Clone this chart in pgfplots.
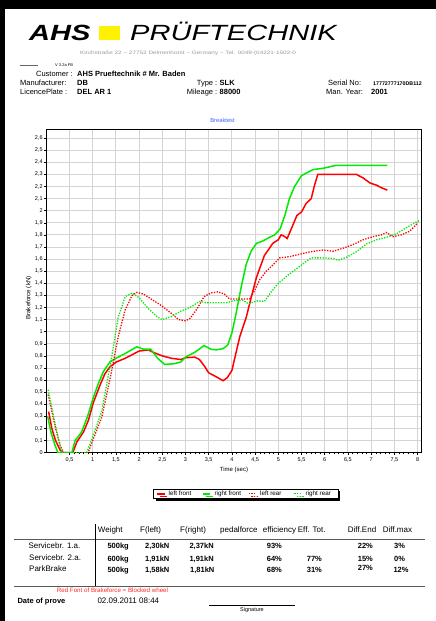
\documentclass[border=0pt]{standalone}
\usepackage{fontspec}
\setmainfont{Liberation Sans}
\usepackage{pgfplots}
\pgfplotsset{compat=1.18}
\usetikzlibrary{shadows}
\definecolor{cRed}{RGB}{255,0,0}
\definecolor{cGreen}{RGB}{0,235,0}
\definecolor{gridgray}{RGB}{212,212,212}
\definecolor{titleblue}{RGB}{60,100,255}
\definecolor{linegray}{RGB}{90,90,90}
\newcommand{\fs}[1]{\fontsize{#1}{#1}\selectfont}

\begin{document}
\begin{tikzpicture}
\useasboundingbox (0,0) rectangle (436pt,-621pt);
\fill[white] (0,0) rectangle (436pt,-621pt);
\fill[black] (0,0) rectangle (436pt,-9.3pt);
\fill[black] (0,0) rectangle (4.5pt,-621pt);

% logo
\node[anchor=base west, inner sep=0] at (29pt,-40pt) {\scalebox{1.32}[1]{\fs{22}\bfseries\itshape AHS}};
\fill[yellow] (99pt,-26pt) rectangle (120pt,-40pt);
\node[anchor=base west, inner sep=0] at (130pt,-40pt) {\scalebox{1.32}[1]{\fs{22}\itshape PRÜFTECHNIK}};
\node[anchor=base west, inner sep=0, text=black!40] at (80pt,-54.5pt) {\scalebox{1.33}[1]{\fs{4.8}Kirchstraße 22 \textasciitilde{} 27753 Delmenhorst \textasciitilde{} Germany \textasciitilde{} Tel. 0049-(04221-1502-0}};

\draw[black!60, line width=0.3pt] (20pt,-65pt) -- (38pt,-65pt);
\node[anchor=base west, inner sep=0] at (55pt,-66.5pt) {\fs{4}V 3.2a FB};

% header data
\node[anchor=base east, inner sep=0] at (73pt,-76pt) {\fs{7.5}Customer :};
\node[anchor=base west, inner sep=0] at (77pt,-76pt) {\fs{7.5}\bfseries AHS Prueftechnik \# Mr. Baden};
\node[anchor=base west, inner sep=0] at (20pt,-85.5pt) {\fs{7.5}Manufacturer:};
\node[anchor=base west, inner sep=0] at (77pt,-85.5pt) {\fs{7.5}\bfseries DB};
\node[anchor=base west, inner sep=0] at (20pt,-94pt) {\fs{7.5}LicencePlate :};
\node[anchor=base west, inner sep=0] at (77pt,-94pt) {\fs{7.5}\bfseries DEL AR 1};
\node[anchor=base east, inner sep=0] at (217.5pt,-85.5pt) {\fs{7.5}Type :};
\node[anchor=base west, inner sep=0] at (219.5pt,-85.5pt) {\fs{7.5}\bfseries SLK};
\node[anchor=base east, inner sep=0] at (217.5pt,-94pt) {\fs{7.5}Mileage :};
\node[anchor=base west, inner sep=0] at (219.5pt,-94pt) {\fs{7.5}\bfseries 88000};
\node[anchor=base west, inner sep=0] at (328pt,-85.5pt) {\fs{7.5}Serial No:};
\node[anchor=base west, inner sep=0] at (373pt,-85.5pt) {\fs{5.3}\bfseries 17772777170DB112};
\node[anchor=base west, inner sep=0] at (326pt,-94pt) {\fs{7.5}Man. Year:};
\node[anchor=base west, inner sep=0] at (371pt,-94pt) {\fs{7.5}\bfseries 2001};

% chart title and axis labels
\node[anchor=base, inner sep=0, text=titleblue] at (222.5pt,-122.7pt) {\fs{5.8}Breaktest};
\node[anchor=base, inner sep=0] at (234pt,-471.5pt) {\fs{6}Time (sec)};
\node[rotate=90, inner sep=0] at (28.8pt,-298pt) {\fs{6.2}Brakeforce (kN)};

\begin{axis}[
  at={(46.3pt,-452.7pt)}, anchor=south west,
  scale only axis, width=375.4pt, height=323.7pt,
  xmin=0, xmax=8.09, ymin=0, ymax=2.675,
  xtick={0.5,1,1.5,2,2.5,3,3.5,4,4.5,5,5.5,6,6.5,7,7.5,8},
  ytick={0,0.1,0.2,0.3,0.4,0.5,0.6,0.7,0.8,0.9,1,1.1,1.2,1.3,1.4,1.5,1.6,1.7,1.8,1.9,2,2.1,2.2,2.3,2.4,2.5,2.6},
  minor x tick num=4,
  xtick pos=bottom, ytick pos=left,
  tick align=outside,
  major tick length=2.5pt, minor tick length=1.6pt,
  tick style={black, line width=0.5pt},
  grid=major,
  major grid style={gridgray, line width=0.9pt},
  axis line style={black, line width=1pt},
  /pgf/number format/.cd, use comma, assume math mode=true,
  /pgfplots/.cd,
  xticklabel style={font=\fs{5.5}, inner sep=1pt, yshift=-1.5pt},
  yticklabel style={font=\fs{5.5}, inner sep=1pt},
  legend columns=4,
  legend cell align=left,
  legend style={at={(0.5306,-0.127)}, anchor=center, font=\fs{6.3},
    draw=black, line width=0.5pt, inner xsep=3.5pt, inner ysep=1pt,
    nodes={inner sep=0.8pt},
    /tikz/every even column/.append style={column sep=0pt},
    drop shadow={shadow xshift=2.5pt, shadow yshift=-2.5pt, fill=black, opacity=1}},
  legend image code/.code={\draw[#1] (0pt,0pt) -- (7.3pt,0pt);},
]
% left front
\addplot[cRed, line width=1.5pt] coordinates {
(0.05,0.34)(0.12,0.2)(0.2,0.1)(0.3,0.02)(0.36,0)(0.57,0)(0.62,0.05)(0.66,0.09)(0.8,0.17)(0.91,0.27)(1.01,0.41)(1.16,0.56)(1.26,0.65)(1.37,0.71)(1.51,0.75)(1.7,0.78)(1.9,0.82)(2.0,0.84)(2.2,0.85)(2.3,0.83)(2.5,0.8)(2.7,0.78)(2.9,0.77)(3.0,0.785)(3.2,0.79)(3.3,0.77)(3.4,0.72)(3.5,0.66)(3.65,0.63)(3.81,0.595)(3.9,0.62)(4.0,0.68)(4.17,0.96)(4.31,1.12)(4.42,1.29)(4.53,1.45)(4.7,1.63)(4.81,1.69)(4.88,1.73)(5.0,1.76)(5.06,1.8)(5.12,1.79)(5.19,1.77)(5.28,1.85)(5.4,1.96)(5.5,1.99)(5.6,2.06)(5.71,2.1)(5.78,2.21)(5.85,2.3)(6.68,2.3)(6.83,2.27)(6.97,2.23)(7.12,2.21)(7.22,2.19)(7.35,2.17)
};
\addlegendentry{\makebox[35.4pt][l]{\hspace{2.6pt}left front}}
% right front
\addplot[cGreen, line width=1.5pt] coordinates {
(0.03,0.3)(0.1,0.17)(0.18,0.07)(0.25,0)(0.55,0)(0.62,0.1)(0.76,0.17)(0.89,0.3)(1.0,0.44)(1.12,0.57)(1.23,0.67)(1.37,0.75)(1.5,0.78)(1.7,0.82)(1.95,0.875)(2.1,0.855)(2.25,0.855)(2.4,0.78)(2.55,0.73)(2.75,0.735)(2.9,0.75)(3.0,0.79)(3.2,0.83)(3.4,0.885)(3.55,0.855)(3.66,0.85)(3.81,0.86)(3.91,0.89)(4.0,0.99)(4.09,1.15)(4.2,1.37)(4.31,1.56)(4.42,1.67)(4.53,1.73)(4.67,1.75)(4.81,1.78)(4.92,1.8)(5.04,1.85)(5.14,1.96)(5.24,2.1)(5.35,2.2)(5.5,2.29)(5.6,2.31)(5.75,2.34)(5.96,2.35)(6.25,2.375)(7.35,2.375)
};
\addlegendentry{\makebox[35.4pt][l]{\hspace{2.6pt}right front}}
% left rear
\addplot[cRed, line width=1.3pt, dash pattern=on 1.3pt off 1.4pt] coordinates {
(0.04,0.48)(0.12,0.34)(0.2,0.2)(0.3,0.06)(0.37,0)(0.9,0)(1.0,0.1)(1.2,0.3)(1.4,0.66)(1.55,0.96)(1.7,1.18)(1.85,1.3)(1.95,1.325)(2.1,1.31)(2.3,1.26)(2.5,1.21)(2.7,1.15)(2.85,1.1)(3.0,1.09)(3.1,1.11)(3.25,1.19)(3.4,1.29)(3.55,1.32)(3.7,1.33)(3.84,1.31)(3.95,1.27)(4.38,1.27)(4.49,1.34)(4.6,1.43)(4.74,1.5)(4.88,1.55)(5.03,1.61)(5.24,1.62)(5.46,1.64)(5.68,1.66)(5.96,1.675)(6.18,1.665)(6.4,1.69)(6.61,1.72)(6.83,1.76)(7.04,1.785)(7.22,1.8)(7.33,1.82)(7.47,1.785)(7.65,1.8)(7.83,1.83)(8.01,1.9)
};
\addlegendentry{\makebox[35.4pt][l]{\hspace{2.6pt}left rear}}
% right rear
\addplot[cGreen, line width=1.3pt, dash pattern=on 1.3pt off 1.4pt] coordinates {
(0.04,0.52)(0.12,0.37)(0.19,0.24)(0.27,0.1)(0.34,0)(0.87,0)(1.0,0.13)(1.2,0.35)(1.4,0.77)(1.55,1.12)(1.7,1.29)(1.85,1.32)(2.0,1.28)(2.2,1.19)(2.4,1.12)(2.5,1.1)(2.7,1.125)(2.9,1.17)(3.1,1.2)(3.3,1.25)(3.45,1.24)(3.88,1.24)(4.09,1.26)(4.24,1.26)(4.36,1.23)(4.53,1.255)(4.7,1.25)(4.85,1.33)(5.0,1.4)(5.17,1.455)(5.39,1.52)(5.6,1.58)(5.71,1.61)(5.96,1.61)(6.18,1.605)(6.29,1.59)(6.47,1.615)(6.68,1.66)(6.9,1.725)(7.12,1.76)(7.33,1.78)(7.55,1.81)(7.76,1.86)(7.99,1.91)(8.05,1.92)
};
\addlegendentry{\makebox[30.5pt][l]{\hspace{2.6pt}right rear}}
\end{axis}

% table
\draw[linegray, line width=1.1pt] (14pt,-539.7pt) -- (425pt,-539.7pt);
\draw[linegray, line width=1.1pt] (14pt,-586.3pt) -- (425pt,-586.3pt);
\draw[black, line width=0.8pt] (95pt,-524.3pt) -- (95pt,-585.7pt);
\foreach \x/\t in {97.7/Weight,140/F(left),180/F(right),220/pedalforce,262.7/efficiency,297.7/Eff. Tot.,347.7/Diff.End,382.7/Diff.max}
  \node[anchor=base west, inner sep=0] at (\x pt,-532.5pt) {\fs{8}\t};
\node[anchor=base west, inner sep=0] at (28.3pt,-548pt) {\fs{8}Servicebr. 1.a.};
\node[anchor=base west, inner sep=0] at (29pt,-560.5pt) {\fs{8}Servicebr. 2.a.};
\node[anchor=base west, inner sep=0] at (29pt,-571.5pt) {\fs{8}ParkBrake};
\foreach \x/\t in {107.3/500kg,145/{2,30kN},189.3/{2,37kN},266.7/93\%,357.7/22\%,394/3\%}
  \node[anchor=base west, inner sep=0] at (\x pt,-548.5pt) {\fs{7.5}\bfseries \t};
\foreach \x/\t in {107.3/600kg,145/{1,91kN},189.3/{1,91kN},266.7/64\%,306.7/77\%,357.7/15\%,394/0\%}
  \node[anchor=base west, inner sep=0] at (\x pt,-561pt) {\fs{7.5}\bfseries \t};
\foreach \x/\t in {107.3/500kg,145/{1,58kN},190/{1,81kN},266.7/68\%,306.7/31\%,393.3/12\%}
  \node[anchor=base west, inner sep=0] at (\x pt,-572.5pt) {\fs{7.5}\bfseries \t};
\node[anchor=base west, inner sep=0] at (357.7pt,-570.7pt) {\fs{7.5}\bfseries 27\%};

\node[anchor=base west, inner sep=0, text=red!85] at (56.7pt,-592.3pt) {\fs{6.2}Red Font of Brakeforce = Blocked wheel};
\node[anchor=base west, inner sep=0] at (17.3pt,-603.3pt) {\fs{7.5}\bfseries Date of prove};
\node[anchor=base west, inner sep=0] at (97.3pt,-603.3pt) {\fs{8}02.09.2011 08:44};
\draw[black, line width=0.6pt] (209pt,-605.3pt) -- (295pt,-605.3pt);
\node[anchor=base, inner sep=0] at (252pt,-611.7pt) {\fs{5.5}Signature};
\end{tikzpicture}
\end{document}
